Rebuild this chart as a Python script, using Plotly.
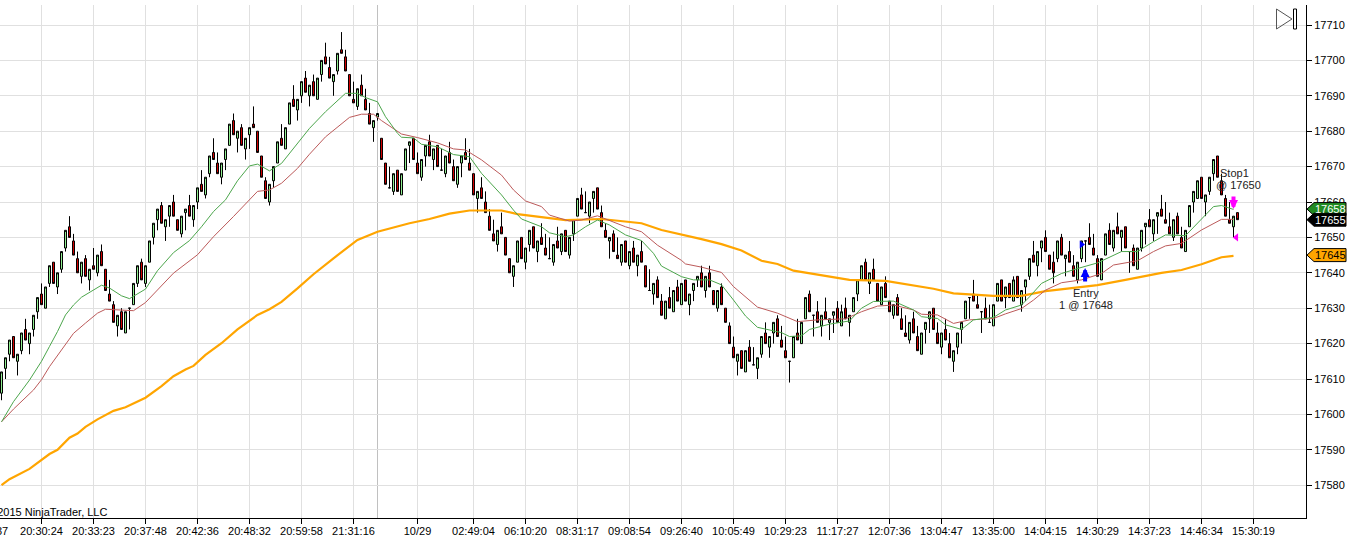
import plotly.graph_objects as go

opens = [
    17606, 17613, 17617, 17622, 17615, 17618, 17624, 17620, 17624, 17629,
    17634, 17630, 17637, 17643, 17636, 17641, 17647, 17653, 17649, 17644,
    17639, 17644, 17638, 17642, 17640, 17646, 17641, 17634, 17631, 17625,
    17629, 17623, 17630, 17631, 17637, 17643, 17637, 17643, 17650, 17655,
    17659, 17653, 17656, 17660, 17655, 17651, 17657, 17659, 17655, 17660,
    17665, 17662, 17668, 17674, 17671, 17667, 17672, 17676, 17683, 17678,
    17681, 17675, 17679, 17682, 17680, 17673, 17666, 17660, 17666, 17671,
    17678, 17675, 17682, 17689, 17686, 17690, 17695, 17690, 17694, 17689,
    17696, 17701, 17698, 17694, 17697, 17703, 17701, 17696, 17689, 17687,
    17693, 17689, 17685, 17681, 17684, 17678, 17671, 17664, 17663, 17669,
    17662, 17669, 17676, 17678, 17671, 17667, 17673, 17677, 17672, 17676,
    17669, 17668, 17674, 17670, 17665, 17671, 17674, 17671, 17668, 17661,
    17664, 17660, 17656, 17651, 17648, 17653, 17650, 17644, 17639, 17643,
    17650, 17643, 17648, 17653, 17646, 17650, 17647, 17644, 17643, 17649,
    17646, 17652, 17645, 17651, 17656, 17662, 17657, 17656, 17661, 17664,
    17657, 17652, 17649, 17651, 17645, 17643, 17649, 17642, 17647, 17642,
    17646, 17642, 17635, 17634, 17638, 17632, 17627, 17633, 17629, 17636,
    17631, 17638, 17631, 17635, 17638, 17640, 17635, 17640, 17635, 17630,
    17636, 17630, 17625, 17619, 17615, 17618, 17612, 17619, 17614, 17613,
    17617, 17623, 17619, 17623, 17627, 17621, 17618, 17615, 17616, 17623,
    17620, 17627, 17634, 17628, 17629, 17625, 17629, 17626, 17628, 17630,
    17625, 17630, 17626, 17629, 17634, 17638, 17643, 17637, 17641, 17637,
    17631, 17637, 17632, 17628, 17633, 17627, 17623, 17621, 17627, 17622,
    17617, 17624, 17627, 17630, 17623, 17619, 17624, 17620, 17615, 17619,
    17624, 17627, 17633, 17634, 17631, 17629, 17630, 17626, 17625, 17632,
    17638, 17633, 17637, 17632, 17639, 17631, 17636, 17639, 17645, 17642,
    17647, 17650, 17645, 17643, 17644, 17650, 17644, 17646, 17642, 17638,
    17644, 17649, 17650, 17647, 17644, 17638, 17645, 17652, 17647, 17653,
    17650, 17653, 17646, 17647, 17641, 17647, 17653, 17655, 17651, 17656,
    17658, 17655, 17653, 17650, 17656, 17650, 17646, 17653, 17660, 17661,
    17667, 17660, 17663, 17668, 17673, 17666, 17661, 17655, 17653, 17657,
]
highs = [
    17612, 17616, 17621, 17622, 17617, 17623, 17627, 17623, 17628, 17633,
    17637, 17636, 17642, 17643, 17640, 17646, 17652, 17656, 17651, 17646,
    17643, 17645, 17641, 17647, 17645, 17648, 17641, 17638, 17632, 17628,
    17630, 17629, 17630, 17637, 17642, 17644, 17642, 17649, 17654, 17658,
    17660, 17655, 17659, 17662, 17655, 17656, 17658, 17662, 17659, 17664,
    17669, 17667, 17673, 17678, 17674, 17671, 17675, 17682, 17685, 17680,
    17682, 17678, 17681, 17687, 17680, 17673, 17667, 17665, 17670, 17677,
    17682, 17681, 17688, 17693, 17689, 17694, 17697, 17693, 17696, 17695,
    17700, 17705, 17701, 17696, 17702, 17708, 17703, 17696, 17694, 17692,
    17696, 17692, 17688, 17683, 17685, 17678, 17671, 17670, 17668, 17669,
    17668, 17675, 17677, 17678, 17674, 17672, 17676, 17679, 17675, 17676,
    17675, 17673, 17677, 17672, 17670, 17673, 17678, 17675, 17668, 17663,
    17667, 17663, 17658, 17655, 17652, 17657, 17650, 17644, 17642, 17649,
    17650, 17647, 17652, 17653, 17649, 17654, 17651, 17650, 17648, 17653,
    17651, 17652, 17650, 17655, 17661, 17664, 17663, 17660, 17663, 17664,
    17659, 17654, 17650, 17652, 17650, 17648, 17649, 17646, 17649, 17645,
    17649, 17642, 17641, 17637, 17639, 17634, 17632, 17636, 17635, 17638,
    17637, 17638, 17634, 17637, 17639, 17642, 17639, 17642, 17635, 17635,
    17637, 17630, 17626, 17622, 17617, 17618, 17618, 17621, 17619, 17616,
    17622, 17626, 17622, 17626, 17628, 17625, 17622, 17615, 17622, 17627,
    17626, 17633, 17635, 17628, 17632, 17628, 17633, 17627, 17629, 17632,
    17631, 17633, 17628, 17633, 17638, 17642, 17644, 17640, 17644, 17637,
    17636, 17639, 17632, 17631, 17634, 17630, 17628, 17626, 17629, 17625,
    17623, 17626, 17629, 17630, 17626, 17623, 17627, 17623, 17618, 17623,
    17626, 17632, 17633, 17638, 17634, 17629, 17633, 17631, 17631, 17637,
    17638, 17636, 17637, 17639, 17639, 17635, 17638, 17644, 17649, 17646,
    17649, 17652, 17645, 17646, 17649, 17651, 17645, 17649, 17645, 17643,
    17649, 17649, 17654, 17651, 17645, 17644, 17651, 17654, 17652, 17657,
    17652, 17653, 17646, 17648, 17647, 17652, 17654, 17658, 17655, 17657,
    17662, 17660, 17657, 17655, 17657, 17653, 17652, 17659, 17663, 17666,
    17667, 17662, 17667, 17672, 17673, 17668, 17662, 17660, 17656, 17657,
]
lows = [
    17604, 17610, 17615, 17616, 17611, 17617, 17621, 17617, 17622, 17627,
    17631, 17630, 17636, 17637, 17634, 17640, 17646, 17650, 17645, 17640,
    17637, 17639, 17635, 17641, 17639, 17642, 17635, 17632, 17626, 17622,
    17624, 17623, 17624, 17631, 17636, 17638, 17636, 17643, 17648, 17652,
    17654, 17649, 17653, 17656, 17652, 17650, 17652, 17656, 17653, 17658,
    17663, 17661, 17667, 17672, 17668, 17665, 17669, 17676, 17679, 17674,
    17676, 17672, 17675, 17681, 17674, 17667, 17661, 17659, 17664, 17671,
    17676, 17675, 17682, 17687, 17683, 17688, 17691, 17687, 17690, 17689,
    17694, 17699, 17695, 17690, 17696, 17702, 17697, 17690, 17688, 17686,
    17690, 17686, 17682, 17677, 17683, 17672, 17665, 17664, 17662, 17663,
    17662, 17669, 17671, 17672, 17668, 17666, 17670, 17673, 17669, 17670,
    17669, 17667, 17671, 17666, 17664, 17667, 17672, 17669, 17662, 17657,
    17661, 17657, 17652, 17649, 17646, 17651, 17645, 17640, 17636, 17643,
    17644, 17641, 17646, 17647, 17643, 17648, 17645, 17644, 17642, 17647,
    17645, 17646, 17644, 17649, 17656, 17658, 17657, 17654, 17657, 17658,
    17653, 17650, 17644, 17646, 17644, 17642, 17643, 17641, 17643, 17639,
    17643, 17636, 17635, 17631, 17633, 17628, 17627, 17630, 17629, 17632,
    17631, 17632, 17628, 17632, 17636, 17636, 17633, 17636, 17631, 17629,
    17631, 17626, 17620, 17616, 17611, 17613, 17612, 17615, 17614, 17610,
    17616, 17620, 17616, 17620, 17622, 17619, 17616, 17609, 17616, 17621,
    17620, 17627, 17629, 17622, 17626, 17622, 17627, 17621, 17623, 17626,
    17625, 17627, 17622, 17629, 17632, 17638, 17638, 17634, 17638, 17632,
    17631, 17633, 17629, 17627, 17628, 17624, 17622, 17620, 17623, 17618,
    17617, 17620, 17623, 17624, 17620, 17617, 17621, 17616, 17612, 17617,
    17620, 17627, 17627, 17632, 17630, 17623, 17627, 17626, 17625, 17632,
    17632, 17630, 17633, 17632, 17633, 17629, 17632, 17638, 17643, 17639,
    17643, 17646, 17641, 17637, 17643, 17645, 17639, 17643, 17639, 17637,
    17643, 17643, 17648, 17645, 17639, 17638, 17645, 17648, 17646, 17651,
    17646, 17647, 17640, 17642, 17641, 17646, 17648, 17653, 17649, 17651,
    17656, 17654, 17651, 17649, 17651, 17647, 17646, 17653, 17657, 17661,
    17661, 17656, 17662, 17666, 17667, 17662, 17656, 17654, 17650, 17655,
]
closes = [
    17612, 17616, 17621, 17616, 17617, 17623, 17621, 17623, 17628, 17633,
    17631, 17636, 17642, 17637, 17640, 17646, 17652, 17650, 17645, 17640,
    17643, 17639, 17641, 17641, 17645, 17642, 17635, 17632, 17626, 17628,
    17624, 17629, 17630, 17637, 17642, 17638, 17642, 17649, 17654, 17658,
    17654, 17655, 17659, 17656, 17652, 17656, 17658, 17656, 17659, 17664,
    17663, 17667, 17673, 17672, 17668, 17671, 17675, 17682, 17679, 17680,
    17676, 17678, 17681, 17681, 17674, 17667, 17661, 17665, 17670, 17677,
    17676, 17681, 17688, 17687, 17689, 17694, 17691, 17693, 17690, 17695,
    17700, 17699, 17695, 17696, 17702, 17702, 17697, 17690, 17688, 17692,
    17690, 17686, 17682, 17683, 17685, 17672, 17665, 17664, 17668, 17663,
    17668, 17675, 17677, 17672, 17668, 17672, 17676, 17673, 17675, 17670,
    17669, 17673, 17671, 17666, 17670, 17673, 17672, 17669, 17662, 17663,
    17661, 17657, 17652, 17649, 17652, 17651, 17645, 17640, 17642, 17649,
    17644, 17647, 17652, 17647, 17649, 17648, 17645, 17644, 17648, 17647,
    17651, 17646, 17650, 17655, 17661, 17658, 17657, 17660, 17663, 17658,
    17653, 17650, 17650, 17646, 17644, 17648, 17643, 17646, 17643, 17645,
    17643, 17636, 17635, 17637, 17633, 17628, 17632, 17630, 17635, 17632,
    17637, 17632, 17634, 17637, 17639, 17636, 17639, 17636, 17631, 17635,
    17631, 17626, 17620, 17616, 17617, 17613, 17618, 17615, 17614, 17616,
    17622, 17620, 17622, 17626, 17622, 17619, 17616, 17615, 17622, 17621,
    17626, 17633, 17629, 17628, 17626, 17628, 17627, 17627, 17629, 17626,
    17629, 17627, 17628, 17633, 17638, 17642, 17638, 17640, 17638, 17632,
    17636, 17633, 17629, 17631, 17628, 17624, 17622, 17626, 17623, 17618,
    17623, 17626, 17629, 17624, 17620, 17623, 17621, 17616, 17618, 17623,
    17626, 17632, 17633, 17632, 17630, 17629, 17627, 17626, 17631, 17637,
    17632, 17636, 17633, 17638, 17633, 17635, 17638, 17644, 17643, 17646,
    17649, 17646, 17641, 17640, 17649, 17645, 17645, 17643, 17639, 17643,
    17649, 17649, 17648, 17645, 17639, 17644, 17651, 17648, 17652, 17651,
    17652, 17647, 17646, 17642, 17647, 17652, 17654, 17653, 17655, 17657,
    17656, 17654, 17651, 17655, 17651, 17647, 17652, 17659, 17663, 17666,
    17661, 17662, 17667, 17672, 17667, 17662, 17656, 17654, 17656, 17655,
]

green_bars = [
    0, 3, 7, 10, 12, 14, 16, 18, 20, 23, 25, 27, 30, 32, 36, 39, 43, 47, 50, 53,
    56, 59, 62, 64, 67, 70, 73, 77, 81, 85, 86, 89, 91, 94, 96, 99, 100, 103, 105, 109,
    113, 117, 120, 125, 128, 130, 135, 137, 141, 143, 146, 149, 152, 156, 160, 163, 165, 170, 173, 177,
    180, 183, 186, 189, 192, 195, 197, 200, 202, 207, 212, 215, 218, 223, 228, 230, 234, 236, 240, 243,
    248, 251, 255, 257, 260, 265, 269, 274, 280, 284, 288, 291, 296, 299, 303, 305, 308,
]
green_values = [
    17597.9, 17603.6, 17609.7, 17615, 17619.2, 17623.4, 17628.1, 17630.9, 17633.1, 17635,
    17636.5, 17635.7, 17633.5, 17632.7, 17635.4, 17640.6, 17645.7, 17649.1, 17653, 17657.3,
    17660.6, 17666, 17670.2, 17670.7, 17668.8, 17670.9, 17675.1, 17680.8, 17685.5, 17689.7,
    17690.7, 17690.7, 17689.5, 17688.3, 17684.1, 17679.4, 17678.3, 17678.1, 17676.3, 17675.6,
    17673.4, 17672.8, 17668.1, 17662, 17657.7, 17655.2, 17653, 17651.3, 17650.2, 17650.7,
    17653, 17654.9, 17653.5, 17650.7, 17649.1, 17645.5, 17641.9, 17638.9, 17638, 17638,
    17636.6, 17632.3, 17627.8, 17624.6, 17623.9, 17623.1, 17622, 17622.2, 17624, 17625.5,
    17626.4, 17630, 17631.9, 17632, 17629.5, 17627.6, 17627.1, 17625.3, 17624, 17626.7,
    17627.4, 17629.5, 17630.9, 17633.2, 17637, 17639.8, 17641.2, 17642.8, 17646, 17646,
    17648.8, 17650.7, 17650.5, 17654, 17658.7, 17659, 17657.9,
]
red_bars = [
    0, 3, 8, 10, 12, 15, 18, 21, 24, 26, 29, 33, 36, 39, 43, 49, 53, 58, 62, 64,
    67, 70, 74, 77, 81, 85, 87, 90, 93, 95, 98, 100, 104, 109, 113, 116, 120, 125, 128, 131,
    135, 137, 142, 145, 149, 151, 156, 160, 164, 170, 171, 175, 180, 183, 189, 194, 199, 204, 211, 215,
    219, 223, 228, 230, 234, 238, 242, 248, 251, 255, 258, 261, 265, 270, 275, 278, 284, 288, 291, 295,
    300, 305, 308,
]
red_values = [
    17597.9, 17601.5, 17606.9, 17609.8, 17613.5, 17618.2, 17622.9, 17625.8, 17628.6, 17629.7,
    17629.5, 17629.3, 17631.6, 17635.2, 17639.9, 17645.1, 17650.2, 17655.9, 17660.6, 17663,
    17663.4, 17665.3, 17669.5, 17673.5, 17678.4, 17682.2, 17683.9, 17684.8, 17684.8, 17683,
    17680.8, 17679.2, 17678.2, 17676.7, 17675, 17674.7, 17671.9, 17667.6, 17663.4, 17660.3,
    17658.7, 17656.3, 17654.6, 17654.9, 17656.1, 17655.2, 17653, 17651.6, 17647.8, 17643.5,
    17642.5, 17641.6, 17640.1, 17636.1, 17630.3, 17628.6, 17626.2, 17626.7, 17627, 17629,
    17630.6, 17630.9, 17629.5, 17628.3, 17628.1, 17625.7, 17626.7, 17627.1, 17628.4, 17629.9,
    17632.3, 17635.1, 17637.2, 17638, 17639.8, 17642.2, 17643.4, 17646, 17647.6, 17648.3,
    17652.1, 17655.1, 17655.1,
]
orange_bars = [
    0, 2, 7, 10, 12, 14, 17, 19, 21, 24, 28, 31, 36, 40, 41, 43, 46, 48, 51, 55,
    59, 64, 67, 70, 74, 78, 83, 87, 89, 94, 98, 100, 102, 107, 112, 117, 125, 129,
    135, 141, 150, 157, 160, 165, 170, 175, 180, 185, 190, 194, 198, 203, 212, 221, 227, 233, 238, 248,
    255, 261, 267, 274, 281, 290, 295, 300, 305, 308,
]
orange_values = [
    17580, 17581.7, 17584.6, 17587.1, 17588.8, 17590, 17593.4, 17594.6, 17596.5, 17598.6,
    17601, 17602, 17604.7, 17608, 17609, 17610.8, 17612.7, 17613.7, 17616.8, 17620.1,
    17624, 17628.1, 17629.7, 17631.8, 17635.6, 17639.6, 17644.1, 17647.6, 17649.3, 17651.6,
    17652.8, 17653.2, 17654, 17655.2, 17656.7, 17657.6, 17657.6, 17656.6,
    17655.8, 17654.9, 17655.2, 17654.3, 17654, 17652.1, 17650.9, 17649.5, 17648.1, 17646.3,
    17643.4, 17642.5, 17640.6, 17639.7, 17638, 17637.7, 17636.6, 17635.5, 17634.2, 17633.5,
    17633.5, 17634.8, 17635.6, 17636.5, 17638, 17640, 17640.8, 17642.4, 17644.4, 17644.8,
]

tick_bars = [10, 23, 36, 49, 62, 75, 88, 104, 118, 131, 144, 157, 170, 183, 196, 209, 222, 235, 248, 261, 274, 287, 300, 313]
tick_labels = [
    "20:30:24", "20:33:23", "20:37:48", "20:42:36", "20:48:32", "20:59:58", "21:31:16", "10/29",
    "02:49:04", "06:10:20", "08:31:17", "09:08:54", "09:26:40", "10:05:49", "10:29:23", "11:17:27",
    "12:07:36", "13:04:47", "13:35:00", "14:04:15", "14:30:29", "14:37:23", "14:46:34", "15:30:19",
]
session_bar = 94
tag_prices = [17658, 17655, 17645]
tag_fills = ["#228B22", "#000000", "#FFA500"]
tag_texts = ["#FFFFFF", "#FFFFFF", "#000000"]

FONT = "Liberation Sans, Arial, sans-serif"
WIDTH, HEIGHT = 1355, 541
PLOT_W, PLOT_H = 1306, 513
PX_PER_POINT = 3.54
bars = list(range(len(opens)))


def px_x(px):
    return px / PLOT_W


def px_y(py):
    return 1 - (py - 5) / PLOT_H


fig = go.Figure()
fig.add_trace(go.Candlestick(
    x=bars, open=opens, high=highs, low=lows, close=closes,
    increasing=dict(fillcolor="#90EE90", line=dict(color="#000000", width=1)),
    decreasing=dict(fillcolor="#D00000", line=dict(color="#000000", width=1)),
    whiskerwidth=0,
    hoverinfo="skip",
))
fig.add_trace(go.Scatter(x=orange_bars, y=orange_values, mode="lines",
                         line=dict(color="#FFA500", width=2.2)))
fig.add_trace(go.Scatter(x=red_bars, y=red_values, mode="lines",
                         line=dict(color="#BC5A5A", width=1)))
fig.add_trace(go.Scatter(x=green_bars, y=green_values, mode="lines",
                         line=dict(color="#4CA64C", width=1)))
# execution markers
fig.add_trace(go.Scatter(x=[270], y=[17648], mode="markers",
                         marker=dict(symbol="triangle-right", size=7, color="#0000FF")))
fig.add_trace(go.Scatter(x=[308.7], y=[17650], mode="markers",
                         marker=dict(symbol="triangle-left", size=7, color="#FF00FF")))

shapes = [dict(type="line", xref="x", yref="paper", x0=session_bar, x1=session_bar, y0=0, y1=1,
               line=dict(color="#C0C0C0", width=1), layer="below")]
half = 6.5 / PX_PER_POINT
annotations = []
for price, fill, text_color in zip(tag_prices, tag_fills, tag_texts):
    x0, x1, x2 = px_x(1307), px_x(1314), px_x(1346)
    path = f"M {x0},{price} L {x1},{price + half} L {x2},{price + half} L {x2},{price - half} L {x1},{price - half} Z"
    shapes.append(dict(type="path", xref="paper", yref="y", path=path, fillcolor=fill,
                       line=dict(color="#000000", width=1), layer="above"))
    annotations.append(dict(xref="paper", yref="y", x=px_x(1330), y=price, text=str(price),
                            xanchor="center", yanchor="middle", showarrow=False,
                            font=dict(family=FONT, size=11, color=text_color)))

# run button in the corner
shapes.append(dict(type="path", xref="paper", yref="paper",
                   path=f"M {px_x(1276.5)},{px_y(9)} L {px_x(1292)},{px_y(19)} L {px_x(1276.5)},{px_y(29)} Z",
                   line=dict(color="#555555", width=1), layer="above"))
shapes.append(dict(type="rect", xref="paper", yref="paper", x0=px_x(1293.5), x1=px_x(1296.5),
                   y0=px_y(9), y1=px_y(29), line=dict(color="#000000", width=1), layer="above"))


def label(px, py, text, color="#222222", anchor="center"):
    return dict(xref="paper", yref="paper", x=px_x(px), y=px_y(py), text=text, xanchor=anchor, yanchor="middle",
                showarrow=False, font=dict(family=FONT, size=11, color=color))


annotations += [
    label(1085.5, 293, "Entry"),
    label(1086, 305, "1 @ 17648"),
    label(1234, 173, "Stop1"),
    label(1238.5, 185, "@ 17650"),
    label(109, 512, "\u00a9 2015 NinjaTrader, LLC", "#000000", "right"),
    label(10, 531, "37", "#000000", "right"),
    dict(xref="x", yref="paper", x=270.9, y=px_y(268), ax=0, ay=15, text="", showarrow=True,
         arrowhead=2, arrowsize=0.45, arrowwidth=4, arrowcolor="#0000FF"),
    dict(xref="x", yref="paper", x=308, y=px_y(209), ax=0, ay=-14, text="", showarrow=True,
         arrowhead=2, arrowsize=0.45, arrowwidth=4, arrowcolor="#FF00FF"),
]

fig.update_layout(
    width=WIDTH, height=HEIGHT,
    margin=dict(l=0, r=WIDTH - PLOT_W, t=5, b=HEIGHT - PLOT_H - 5),
    paper_bgcolor="#FFFFFF", plot_bgcolor="#FFFFFF",
    showlegend=False, boxgap=0.5, boxgroupgap=0,
    shapes=shapes, annotations=annotations,
    xaxis=dict(range=[-1.5 / 4, (PLOT_W - 1.5) / 4], tickmode="array", tickvals=tick_bars, ticktext=tick_labels,
               rangeslider=dict(visible=False), showgrid=True, gridcolor="#E0E0E0", gridwidth=1,
               showline=True, linecolor="#000000", linewidth=1, ticks="outside", ticklen=5, tickcolor="#000000",
               tickangle=0, zeroline=False, ticklabelstandoff=-2, tickfont=dict(family=FONT, size=11, color="#000000")),
    yaxis=dict(side="right", range=[17710 - 493 / PX_PER_POINT, 17710 + 20 / PX_PER_POINT], tick0=17580, dtick=10,
               tickformat="d", showgrid=True, gridcolor="#E0E0E0", gridwidth=1, showline=True,
               linecolor="#000000", linewidth=1, ticks="outside", ticklen=5, tickcolor="#000000", zeroline=False,
               tickfont=dict(family=FONT, size=11, color="#000000")),
)

fig.write_html("out.html", config={"displayModeBar": False},
               post_script="document.body.style.margin='0';document.documentElement.style.overflow='hidden';")
